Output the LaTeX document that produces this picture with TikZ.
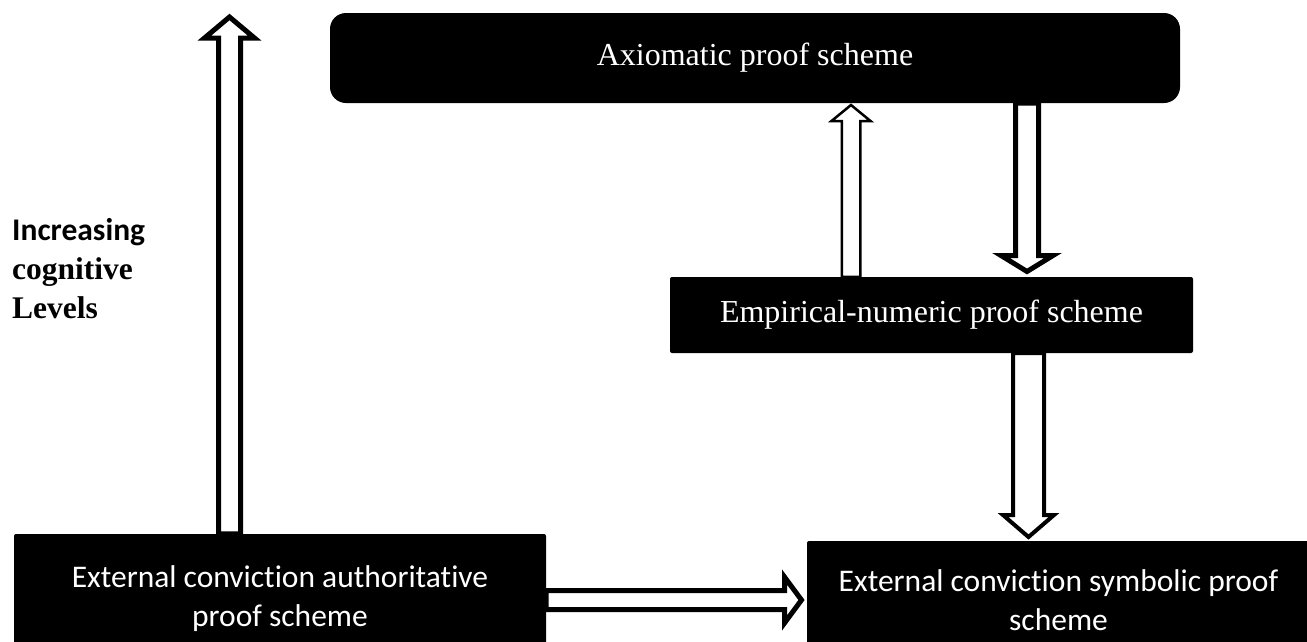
\documentclass[tikz,border=0pt]{standalone}
\usepackage{fontspec}
\setmainfont{Liberation Serif}
\setsansfont[Ligatures={NoCommon}]{Carlito}
\usetikzlibrary{calc}

% hollow block arrow: foot, tip, half shaft, half head, head length, line width
\newcommand{\hollowarrow}[6]{%
  \coordinate (hb) at ($(#2)!#5!(#1)$);
  \draw[line width=#6, line join=miter, fill=white]
    ($(#1)!#3!90:(#2)$) -- ($(hb)!#3!-90:(#1)$) -- ($(hb)!#4!-90:(#1)$)
    -- (#2) -- ($(hb)!#4!90:(#1)$) -- ($(hb)!#3!90:(#1)$)
    -- ($(#1)!#3!-90:(#2)$) -- cycle;}

\tikzset{
  blackbox/.style={fill=black, text=white, inner sep=0pt, align=center},
  serifbox/.style={blackbox, font=\fontsize{32}{38}\selectfont},
  sansbox/.style={blackbox, font=\sffamily\fontsize{31.5}{39}\selectfont},
}

\begin{document}
\begin{tikzpicture}[x=1pt, y=-1pt]
  \useasboundingbox (0,0) rectangle (1307,641);

  % the four schemes
  \node[serifbox, rounded corners=16pt, minimum width=850pt, minimum height=90pt] (axiom) at (755,58) {Axiomatic proof scheme};
  \node[serifbox, rounded corners=2pt, minimum width=523pt, minimum height=76pt] (empiric) at (931.5,315) {Empirical-numeric proof scheme};
  \node[sansbox, rounded corners=2pt, minimum width=532pt, minimum height=130pt] (author) at (280,599) {External conviction authoritative\\proof scheme};
  \node[sansbox, rounded corners=2pt, minimum width=503pt, minimum height=118pt] (symbol) at (1058.5,600) {External conviction symbolic proof\\scheme};

  % side label
  \node[anchor=north west, align=left, inner sep=0pt, font=\bfseries\fontsize{31.5}{39}\selectfont] (levels) at (12,218) {{\sffamily Increasing}\\cognitive\\Levels};

  % columns of the arrows
  \coordinate (leftcol) at (229.5,17);
  \coordinate (upcol) at (851,105);
  \coordinate (downcol) at (1027,271.5);
  \coordinate (symcol) at (1028.5,537);
  \coordinate (rightcol) at (801.5,600);

  \coordinate (lvlfoot) at (author.north -| leftcol);
  \hollowarrow{lvlfoot}{leftcol}{11pt}{25pt}{21pt}{5pt}

  \coordinate (upfoot) at (empiric.north -| upcol);
  \hollowarrow{upfoot}{upcol}{9.25pt}{19.5pt}{16pt}{2.5pt}

  \coordinate (downfoot) at (axiom.south -| downcol);
  \hollowarrow{downfoot}{downcol}{11.5pt}{26pt}{16pt}{5pt}

  \coordinate (symfoot) at (empiric.south -| symcol);
  \hollowarrow{symfoot}{symcol}{15.5pt}{25.5pt}{22pt}{4pt}

  \coordinate (authfoot) at (author.east |- rightcol);
  \hollowarrow{authfoot}{rightcol}{9.5pt}{23pt}{17pt}{5pt}
\end{tikzpicture}
\end{document}
